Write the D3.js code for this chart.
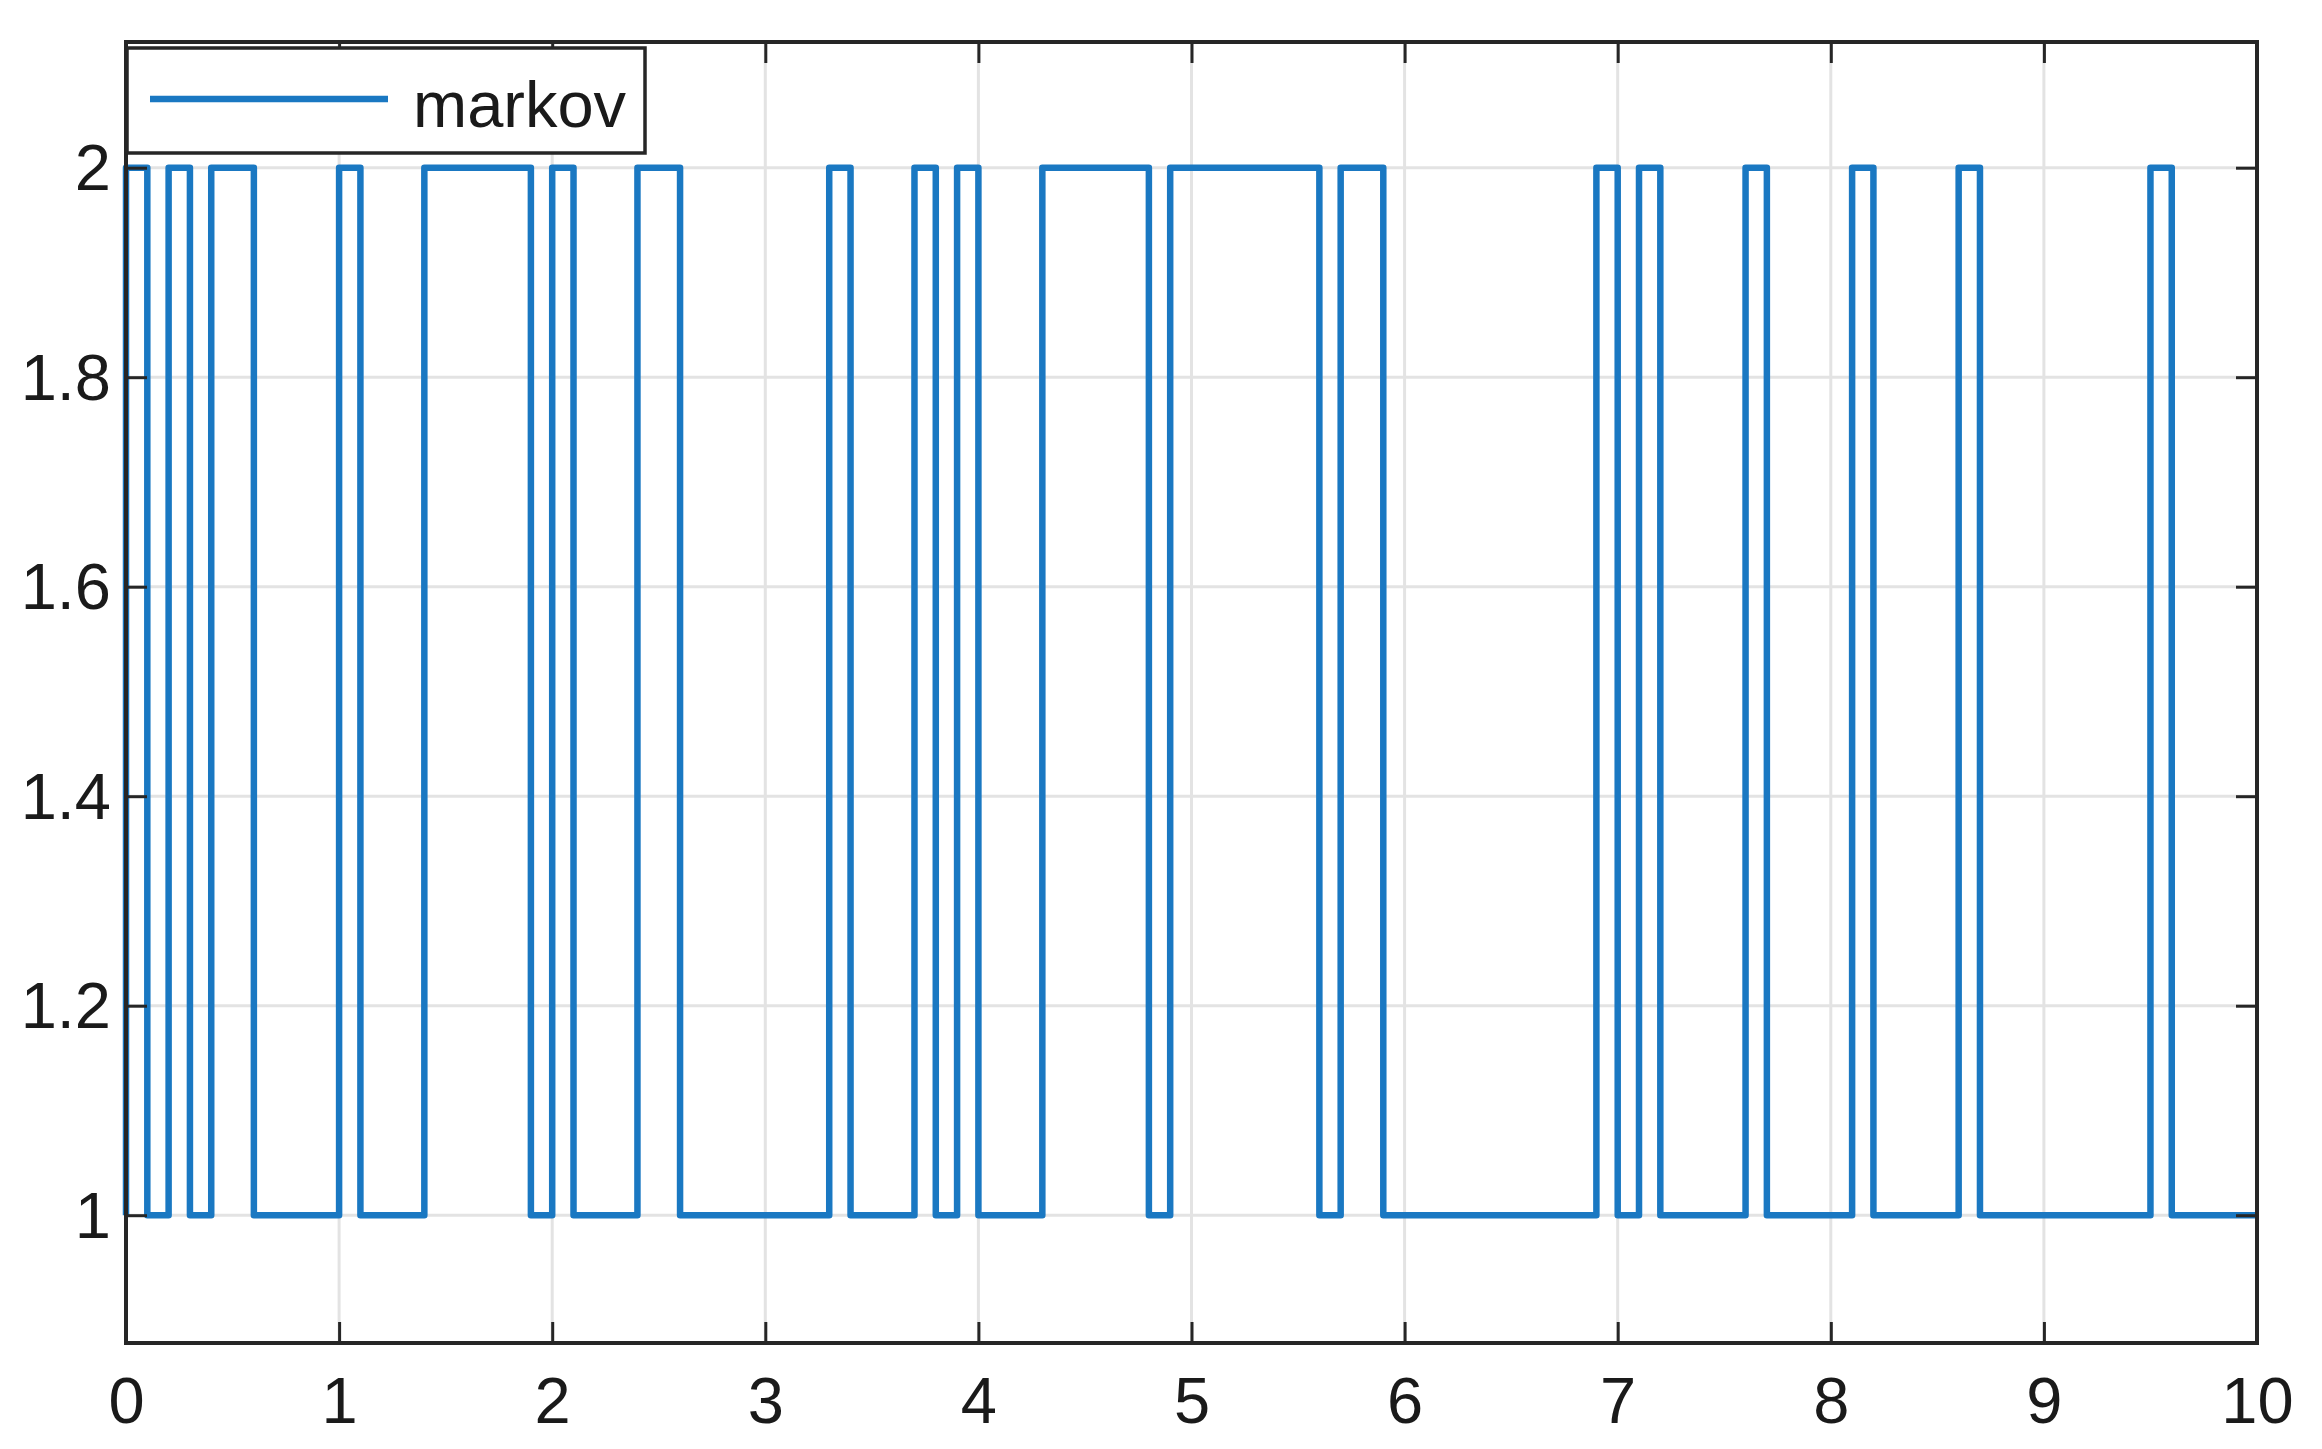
<!DOCTYPE html>
<html><head><meta charset="utf-8">
<script src="https://cdn.jsdelivr.net/npm/d3@7"></script>
<style>
html,body{margin:0;padding:0;background:#fff;}
text{font-family:"Liberation Sans",Arial,sans-serif;fill:#1a1a1a;}
</style></head>
<body>
<svg id="chart" width="2322" height="1449"></svg>
<script>
// Switching instants (s) and the state held from each instant onward
const switchTimes = [0, 0, 0.1, 0.2, 0.3, 0.4, 0.6, 1.0, 1.1, 1.4, 1.9, 2.0, 2.1, 2.4, 2.6, 3.3, 3.4, 3.7, 3.8, 3.9, 4.0, 4.3, 4.8, 4.9, 5.6, 5.7, 5.9, 6.9, 7.0, 7.1, 7.2, 7.6, 7.7, 8.1, 8.2, 8.6, 8.7, 9.5, 9.6, 10];
const states      = [1, 2, 1,   2,   1,   2,   1,   2,   1,   2,   1,   2,   1,   2,   1,   2,   1,   2,   1,   2,   1,   2,   1,   2,   1,   2,   1,   2,   1,   2,   1,   2,   1,   2,   1,   2,   1,   2,   1,   1];
const seriesName = "markov";
const xTicks = [0, 1, 2, 3, 4, 5, 6, 7, 8, 9, 10];
const yTicks = [1, 1.2, 1.4, 1.6, 1.8, 2];
const xDomain = [0, 10];
const yDomain = [0.878, 2.12];

const svg = d3.select("#chart");
const L = 126, R = 2257, T = 42, B = 1343;
const x = d3.scaleLinear().domain(xDomain).range([L, R]);
const y = d3.scaleLinear().domain(yDomain).range([B, T]);

const data = switchTimes.map((t, i) => ({t: t, v: states[i]}));

// grid
const grid = svg.append("g");
grid.selectAll("line.gx").data(xTicks).enter().append("line")
  .attr("x1", d => x(d)).attr("x2", d => x(d)).attr("y1", T).attr("y2", B)
  .attr("stroke", "#e3e3e3").attr("stroke-width", 3);
grid.selectAll("line.gy").data(yTicks).enter().append("line")
  .attr("x1", L).attr("x2", R).attr("y1", d => y(d)).attr("y2", d => y(d))
  .attr("stroke", "#e3e3e3").attr("stroke-width", 3);

// series
const line = d3.line().x(d => x(d.t)).y(d => y(d.v)).curve(d3.curveStepAfter);
svg.append("path").datum(data)
  .attr("d", line)
  .attr("fill", "none")
  .attr("stroke", "#1a78c2")
  .attr("stroke-width", 6.5)
  .attr("stroke-linejoin", "round");

// axes (inner ticks, box)
const tickLen = 21;
const axB = svg.append("g").attr("transform", `translate(0,${B})`)
  .call(d3.axisBottom(x).tickValues(xTicks).tickSize(-tickLen).tickPadding(34).tickFormat(d3.format("d")));
const axT = svg.append("g").attr("transform", `translate(0,${T})`)
  .call(d3.axisTop(x).tickValues(xTicks).tickSize(-tickLen).tickFormat(""));
const axL = svg.append("g").attr("transform", `translate(${L},0)`)
  .call(d3.axisLeft(y).tickValues(yTicks).tickSize(-tickLen).tickPadding(15).tickFormat(d => d3.format("")(+d.toFixed(1))));
const axR = svg.append("g").attr("transform", `translate(${R},0)`)
  .call(d3.axisRight(y).tickValues(yTicks).tickSize(-tickLen).tickFormat(""));

[axB, axT, axL, axR].forEach(a => {
  a.select(".domain").remove();
  a.selectAll(".tick line").attr("stroke", "#262626").attr("stroke-width", 3);
  a.selectAll("text").attr("font-size", 65).attr("fill", "#1a1a1a")
    .attr("font-family", '"Liberation Sans", Arial, sans-serif');
});
axB.selectAll("text").attr("dy", "0.71em");
axL.selectAll("text").attr("dy", "0.34em");

svg.append("rect").attr("x", L).attr("y", T).attr("width", R - L).attr("height", B - T)
  .attr("fill", "none").attr("stroke", "#262626").attr("stroke-width", 4);

// legend
const lg = svg.append("g");
lg.append("rect").attr("x", 127).attr("y", 48).attr("width", 518).attr("height", 105)
  .attr("fill", "#fff").attr("stroke", "#262626").attr("stroke-width", 3.5);
lg.append("line").attr("x1", 150).attr("x2", 388).attr("y1", 99).attr("y2", 99)
  .attr("stroke", "#1a78c2").attr("stroke-width", 6.5);
lg.append("text").attr("x", 413).attr("y", 127).attr("font-size", 65).text(seriesName);
</script>
</body></html>
